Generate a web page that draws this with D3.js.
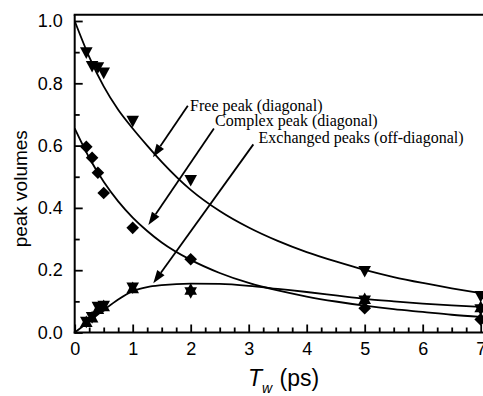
<!DOCTYPE html>
<html>
<head>
<meta charset="utf-8">
<script src="https://cdn.jsdelivr.net/npm/d3@7"></script>
<style>
  body { margin: 0; background: #fff; }
  svg { display: block; }
</style>
</head>
<body>
<svg id="chart" width="483" height="396"></svg>
<script>
// Waiting times (ps) at which peak volumes were measured
const waitTimes = [0.2, 0.3, 0.4, 0.5, 1, 2, 5, 7];

// Measured peak volumes
const freePeak    = [0.897, 0.853, 0.849, 0.832, 0.677, 0.487, 0.195, 0.115];
const complexPeak = [0.596, 0.561, 0.513, 0.448, 0.336, 0.235, 0.078, 0.042];
const exchangeUp   = [0.036, 0.051, 0.078, 0.087, 0.145, 0.140, 0.110, 0.084];
const exchangeDown = [0.032, 0.047, 0.080, 0.083, 0.142, 0.127, 0.100, 0.072];

// Fitted curves sampled along the waiting-time axis
const fitTimes   = [0, 0.25, 0.5, 0.75, 1, 1.25, 1.5, 2, 2.5, 3, 3.5, 4, 4.5, 5, 5.5, 6, 6.5, 7];
const freeFit    = [1.0, 0.885, 0.79, 0.715, 0.655, 0.60, 0.548, 0.458, 0.39, 0.337, 0.294, 0.258, 0.228, 0.201, 0.178, 0.159, 0.142, 0.126];
const complexFit = [0.655, 0.561, 0.484, 0.421, 0.369, 0.326, 0.289, 0.233, 0.191, 0.159, 0.135, 0.1155, 0.0995, 0.086, 0.075, 0.066, 0.057, 0.050];
const exchangeFit = [0, 0.036, 0.072, 0.106, 0.133, 0.146, 0.152, 0.157, 0.156, 0.150, 0.140, 0.130, 0.119, 0.108, 0.100, 0.093, 0.087, 0.082];

// Axis ticks
const xMajor = [0, 1, 2, 3, 4, 5, 6, 7];
const yMajor = [0.0, 0.2, 0.4, 0.6, 0.8, 1.0];

// Callout labels: text anchor and arrow tip, in data units
const callouts = [
  { text: "Free peak (diagonal)",          tx: 1.99, tv: 0.712, sx: 1.95, sv: 0.728, ex: 1.35, ev: 0.563 },
  { text: "Complex peak (diagonal)",       tx: 2.42, tv: 0.663, sx: 2.40, sv: 0.655, ex: 1.27, ev: 0.345 },
  { text: "Exchanged peaks (off-diagonal)", tx: 3.17, tv: 0.607, sx: 3.08, sv: 0.604, ex: 1.355, ev: 0.158 }
];

const svg = d3.select("#chart");
const x = d3.scaleLinear().domain([0, 7]).range([74.7, 480.7]);
const y = d3.scaleLinear().domain([0, 1]).range([332.5, 21]);
const frameTop = y(1.02);
const frameRight = 483;

// Ticks (inward) and labels
const tickFont = "Liberation Sans, Arial, sans-serif";
const gx = svg.append("g").attr("transform", `translate(0,${y(0)})`)
  .call(d3.axisBottom(x).tickValues(xMajor).tickFormat(d3.format("d")).tickSizeInner(-8).tickSizeOuter(0).tickPadding(10));
const gxm = svg.append("g").attr("transform", `translate(0,${y(0)})`)
  .call(d3.axisBottom(x).tickValues(d3.range(0.25, 7.1, 0.25).filter(v => Math.abs(v - Math.round(v)) > 1e-6)).tickFormat("").tickSizeInner(-5).tickSizeOuter(0));
const gy = svg.append("g").attr("transform", `translate(${x(0)},0)`)
  .call(d3.axisLeft(y).tickValues(yMajor).tickFormat(d3.format(".1f")).tickSizeInner(-8).tickSizeOuter(0).tickPadding(12));
const gym = svg.append("g").attr("transform", `translate(${x(0)},0)`)
  .call(d3.axisLeft(y).tickValues([0.1, 0.3, 0.5, 0.7, 0.9]).tickFormat("").tickSizeInner(-5).tickSizeOuter(0));

[gx, gxm, gy, gym].forEach(g => {
  g.select(".domain").remove();
  g.selectAll(".tick line").attr("stroke", "#000").attr("stroke-width", 1.8);
  g.selectAll(".tick text").attr("fill", "#000").attr("font-family", tickFont).attr("font-size", 18);
});

// Frame: left axis, bottom axis, top edge
const frame = svg.append("g").attr("stroke", "#000").attr("stroke-width", 2).attr("fill", "none");
frame.append("line").attr("x1", x(0)).attr("x2", x(0)).attr("y1", frameTop).attr("y2", y(0) + 1);
frame.append("line").attr("x1", x(0) - 1).attr("x2", frameRight).attr("y1", y(0)).attr("y2", y(0));
frame.append("line").attr("x1", x(0) - 1).attr("x2", frameRight).attr("y1", frameTop).attr("y2", frameTop);

// Fitted curves
const line = d3.line().x(d => x(d[0])).y(d => y(d[1])).curve(d3.curveMonotoneX);
[freeFit, complexFit, exchangeFit].forEach(vals => {
  svg.append("path")
    .datum(fitTimes.map((t, i) => [t, vals[i]]))
    .attr("d", line)
    .attr("fill", "none")
    .attr("stroke", "#000")
    .attr("stroke-width", 1.8);
});

// Marker shapes, centred on their bounding box
const triDown = (w, h) => `M${-w},${-h}L${w},${-h}L0,${h}Z`;
const triUp = (w, h) => `M${-w},${h}L${w},${h}L0,${-h}Z`;
const diamond = r => `M0,${-r}L${r},0L0,${r}L${-r},0Z`;

function drawMarkers(values, shape) {
  svg.append("g").selectAll("path")
    .data(waitTimes.map((t, i) => [t, values[i]]))
    .join("path")
    .attr("transform", d => `translate(${x(d[0])},${y(d[1])})`)
    .attr("d", shape)
    .attr("fill", "#000");
}
drawMarkers(freePeak, triDown(6.3, 5.8));
drawMarkers(complexPeak, diamond(6.3));
drawMarkers(exchangeUp, triUp(6.3, 5.8));
drawMarkers(exchangeDown, triDown(6.3, 5.8));

// Callouts with arrows
const cg = svg.append("g");
callouts.forEach(c => {
  const x1 = x(c.sx), y1 = y(c.sv), x2 = x(c.ex), y2 = y(c.ev);
  const ang = Math.atan2(y2 - y1, x2 - x1);
  const len = 13, half = 4.5;
  const bx = x2 - len * Math.cos(ang), by = y2 - len * Math.sin(ang);
  cg.append("line")
    .attr("x1", x1).attr("y1", y1).attr("x2", bx).attr("y2", by)
    .attr("stroke", "#000").attr("stroke-width", 1.8);
  const px = -Math.sin(ang) * half, py = Math.cos(ang) * half;
  cg.append("path")
    .attr("d", `M${x2},${y2}L${bx + px},${by + py}L${bx - px},${by - py}Z`)
    .attr("fill", "#000");
  cg.append("text")
    .attr("x", x(c.tx)).attr("y", y(c.tv))
    .attr("font-family", "Liberation Serif, Times New Roman, serif")
    .attr("font-size", 16)
    .attr("fill", "#000")
    .text(c.text);
});

// Axis titles
svg.append("text")
  .attr("transform", `translate(27,${(y(0) + y(1)) / 2 + 12}) rotate(-90)`)
  .attr("text-anchor", "middle")
  .attr("font-family", tickFont)
  .attr("font-size", 19)
  .attr("fill", "#000")
  .text("peak volumes");

const xt = svg.append("text")
  .attr("x", 248).attr("y", 386)
  .attr("font-family", tickFont)
  .attr("font-size", 23)
  .attr("fill", "#000");
xt.append("tspan").attr("font-style", "italic").text("T");
xt.append("tspan").attr("font-style", "italic").attr("font-size", 14).attr("dy", 7).text("w");
xt.append("tspan").attr("dy", -7).attr("dx", 1).text(" (ps)");
</script>
</body>
</html>
